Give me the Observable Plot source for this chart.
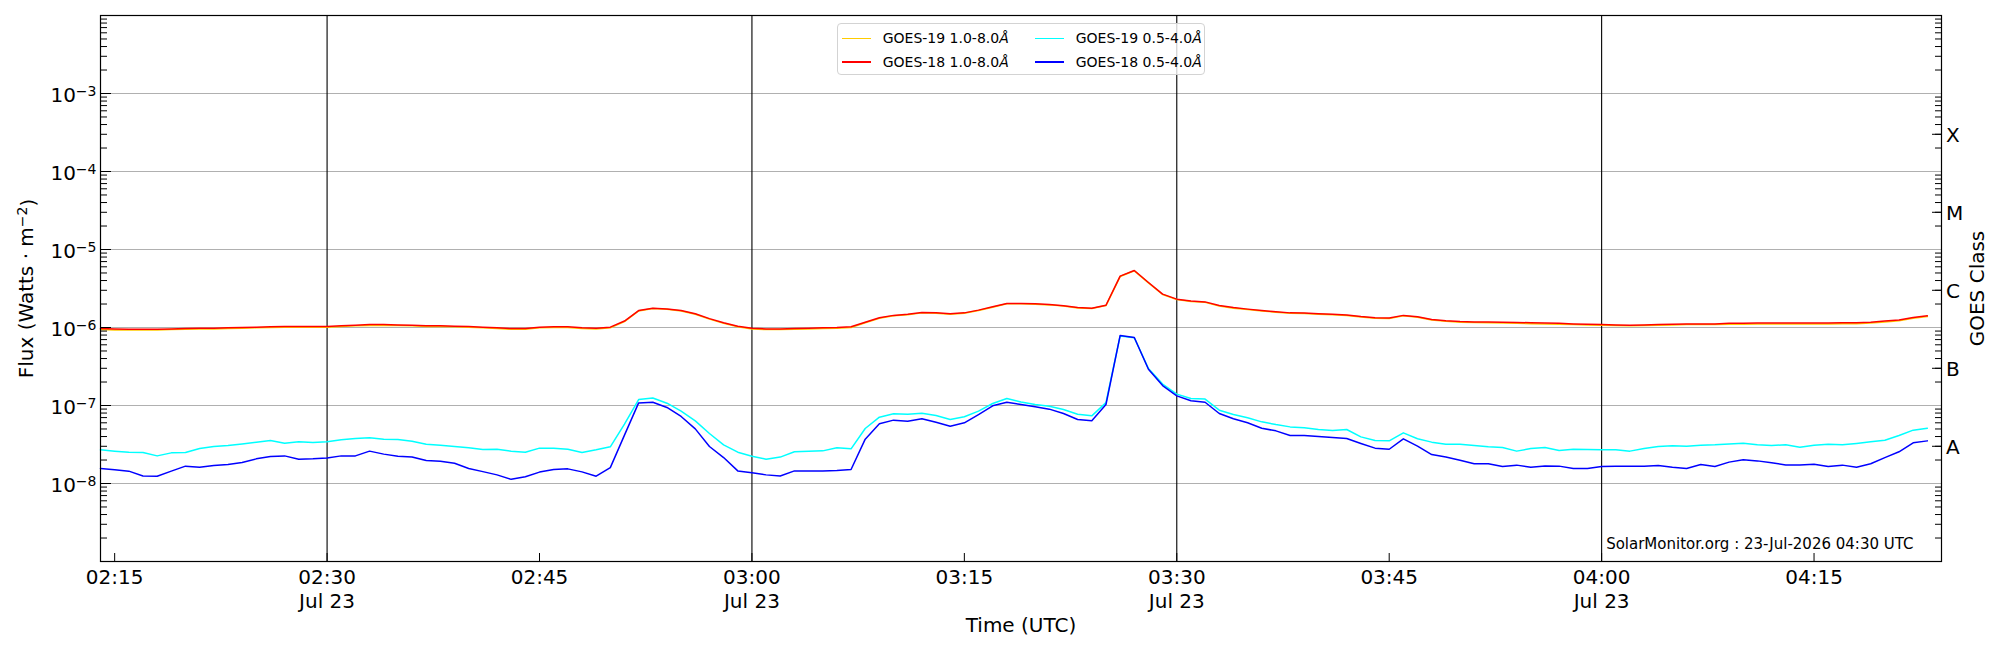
<!DOCTYPE html>
<html><head><meta charset="utf-8">
<script src="https://cdn.jsdelivr.net/npm/d3@7"></script>
<script src="https://cdn.jsdelivr.net/npm/@observablehq/plot@0.6"></script>
<style>
body{margin:0;background:#fff;font-family:"DejaVu Sans",sans-serif;}
#wrap{position:relative;width:2000px;height:650px;overflow:hidden;}
#legend{position:absolute;left:837px;top:23px;width:366px;height:50px;border:1px solid #d3d3d3;border-radius:4px;background:rgba(255,255,255,0.8);font-size:14px;color:#000;}
.sw{position:absolute;width:29px;height:1.5px;}
.lt{position:absolute;line-height:16px;white-space:nowrap;}
</style></head><body><div id="wrap"></div>
<script>
// ---- data (one-minute cadence starting 02:14 UTC, 23 Jul 2026) ----
const startTime = "2026-07-23T02:14:00Z";
const domainStart = "2026-07-23T02:14:00Z";
const domainEnd = "2026-07-23T04:24:00Z";

const goes18Long = [ // GOES-18 1.0-8.0 Å
9.7e-7,9.6e-7,9.5e-7,9.5e-7,9.5e-7,9.6e-7,9.7e-7,9.8e-7,9.8e-7,9.9e-7,
1.00e-6,1.01e-6,1.02e-6,1.03e-6,1.03e-6,1.03e-6,1.03e-6,1.05e-6,1.07e-6,1.09e-6,
1.09e-6,1.08e-6,1.07e-6,1.05e-6,1.05e-6,1.04e-6,1.03e-6,1.01e-6,0.99e-6,0.97e-6,
0.97e-6,1.01e-6,1.02e-6,1.02e-6,0.99e-6,0.98e-6,1.01e-6,1.21e-6,1.65e-6,1.77e-6,
1.73e-6,1.65e-6,1.50e-6,1.30e-6,1.15e-6,1.04e-6,0.98e-6,0.96e-6,0.96e-6,0.97e-6,
0.98e-6,0.99e-6,1.00e-6,1.02e-6,1.17e-6,1.33e-6,1.43e-6,1.48e-6,1.56e-6,1.54e-6,
1.50e-6,1.54e-6,1.67e-6,1.84e-6,2.03e-6,2.03e-6,2.01e-6,1.97e-6,1.90e-6,1.80e-6,
1.77e-6,1.93e-6,4.55e-6,5.38e-6,3.78e-6,2.68e-6,2.31e-6,2.18e-6,2.13e-6,1.91e-6,
1.80e-6,1.72e-6,1.65e-6,1.59e-6,1.54e-6,1.53e-6,1.50e-6,1.48e-6,1.45e-6,1.38e-6,
1.33e-6,1.32e-6,1.43e-6,1.37e-6,1.27e-6,1.22e-6,1.19e-6,1.18e-6,1.18e-6,1.17e-6,
1.16e-6,1.15e-6,1.14e-6,1.13e-6,1.11e-6,1.10e-6,1.09e-6,1.08e-6,1.07e-6,1.08e-6,
1.09e-6,1.10e-6,1.11e-6,1.11e-6,1.11e-6,1.13e-6,1.13e-6,1.14e-6,1.14e-6,1.14e-6,
1.14e-6,1.14e-6,1.14e-6,1.15e-6,1.15e-6,1.17e-6,1.21e-6,1.25e-6,1.34e-6,1.41e-6];

const goes19Long = [ // GOES-19 1.0-8.0 Å
9.4e-7,9.3e-7,9.3e-7,9.3e-7,9.3e-7,9.4e-7,9.5e-7,9.6e-7,9.6e-7,9.7e-7,
9.8e-7,9.9e-7,1.00e-6,1.01e-6,1.01e-6,1.01e-6,1.01e-6,1.03e-6,1.05e-6,1.06e-6,
1.06e-6,1.06e-6,1.05e-6,1.03e-6,1.03e-6,1.02e-6,1.01e-6,0.99e-6,0.97e-6,0.95e-6,
0.95e-6,0.99e-6,1.00e-6,1.00e-6,0.97e-6,0.96e-6,0.99e-6,1.19e-6,1.63e-6,1.75e-6,
1.71e-6,1.63e-6,1.48e-6,1.28e-6,1.13e-6,1.02e-6,0.96e-6,0.94e-6,0.94e-6,0.95e-6,
0.96e-6,0.97e-6,0.98e-6,1.00e-6,1.15e-6,1.31e-6,1.41e-6,1.46e-6,1.54e-6,1.52e-6,
1.48e-6,1.52e-6,1.65e-6,1.82e-6,2.01e-6,2.01e-6,1.99e-6,1.95e-6,1.88e-6,1.78e-6,
1.75e-6,1.91e-6,4.50e-6,5.33e-6,3.74e-6,2.65e-6,2.28e-6,2.15e-6,2.10e-6,1.88e-6,
1.77e-6,1.70e-6,1.63e-6,1.57e-6,1.52e-6,1.51e-6,1.48e-6,1.46e-6,1.43e-6,1.36e-6,
1.31e-6,1.30e-6,1.41e-6,1.35e-6,1.25e-6,1.20e-6,1.17e-6,1.16e-6,1.15e-6,1.14e-6,
1.13e-6,1.12e-6,1.11e-6,1.10e-6,1.09e-6,1.08e-6,1.07e-6,1.06e-6,1.05e-6,1.06e-6,
1.07e-6,1.08e-6,1.09e-6,1.09e-6,1.09e-6,1.10e-6,1.10e-6,1.11e-6,1.11e-6,1.11e-6,
1.11e-6,1.11e-6,1.11e-6,1.12e-6,1.12e-6,1.14e-6,1.18e-6,1.22e-6,1.31e-6,1.38e-6];

const goes18Short = [ // GOES-18 0.5-4.0 Å
1.56e-8,1.50e-8,1.44e-8,1.25e-8,1.24e-8,1.44e-8,1.67e-8,1.62e-8,1.70e-8,1.75e-8,
1.86e-8,2.07e-8,2.22e-8,2.26e-8,2.05e-8,2.07e-8,2.13e-8,2.26e-8,2.26e-8,2.60e-8,
2.38e-8,2.24e-8,2.18e-8,1.97e-8,1.93e-8,1.82e-8,1.56e-8,1.42e-8,1.29e-8,1.13e-8,
1.22e-8,1.40e-8,1.51e-8,1.54e-8,1.41e-8,1.24e-8,1.60e-8,4.17e-8,1.08e-7,1.10e-7,
9.43e-8,7.23e-8,5.02e-8,2.98e-8,2.15e-8,1.45e-8,1.37e-8,1.29e-8,1.25e-8,1.45e-8,
1.45e-8,1.45e-8,1.47e-8,1.51e-8,3.70e-8,5.82e-8,6.49e-8,6.30e-8,6.75e-8,6.11e-8,
5.43e-8,6.00e-8,7.66e-8,9.90e-8,1.10e-7,1.03e-7,9.62e-8,8.98e-8,7.89e-8,6.61e-8,
6.36e-8,1.03e-7,7.89e-7,7.44e-7,2.92e-7,1.80e-7,1.33e-7,1.15e-7,1.10e-7,7.89e-8,
6.75e-8,6.00e-8,5.12e-8,4.73e-8,4.12e-8,4.12e-8,4.00e-8,3.89e-8,3.78e-8,3.26e-8,
2.84e-8,2.75e-8,3.74e-8,3.01e-8,2.35e-8,2.18e-8,1.99e-8,1.79e-8,1.79e-8,1.65e-8,
1.72e-8,1.62e-8,1.68e-8,1.67e-8,1.56e-8,1.56e-8,1.65e-8,1.67e-8,1.67e-8,1.67e-8,
1.70e-8,1.62e-8,1.56e-8,1.75e-8,1.65e-8,1.88e-8,2.01e-8,1.95e-8,1.84e-8,1.73e-8,
1.73e-8,1.77e-8,1.65e-8,1.72e-8,1.62e-8,1.79e-8,2.15e-8,2.55e-8,3.32e-8,3.52e-8];

const goes19Short = [ // GOES-19 0.5-4.0 Å
2.70e-8,2.60e-8,2.52e-8,2.50e-8,2.26e-8,2.47e-8,2.50e-8,2.81e-8,2.98e-8,3.07e-8,
3.22e-8,3.39e-8,3.56e-8,3.29e-8,3.42e-8,3.35e-8,3.42e-8,3.63e-8,3.78e-8,3.85e-8,
3.70e-8,3.66e-8,3.49e-8,3.19e-8,3.10e-8,2.98e-8,2.87e-8,2.73e-8,2.75e-8,2.60e-8,
2.52e-8,2.84e-8,2.84e-8,2.75e-8,2.50e-8,2.70e-8,2.95e-8,5.76e-8,1.19e-7,1.25e-7,
1.07e-7,8.46e-8,6.36e-8,4.38e-8,3.13e-8,2.52e-8,2.24e-8,2.05e-8,2.18e-8,2.55e-8,
2.60e-8,2.62e-8,2.87e-8,2.78e-8,5.07e-8,7.09e-8,7.82e-8,7.74e-8,7.97e-8,7.44e-8,
6.61e-8,7.16e-8,8.46e-8,1.06e-7,1.23e-7,1.11e-7,1.03e-7,9.81e-8,8.89e-8,7.74e-8,
7.37e-8,1.09e-7,7.80e-7,7.40e-7,2.98e-7,1.88e-7,1.40e-7,1.23e-7,1.21e-7,8.71e-8,
7.66e-8,6.95e-8,6.17e-8,5.70e-8,5.32e-8,5.17e-8,4.92e-8,4.78e-8,4.92e-8,3.96e-8,
3.56e-8,3.52e-8,4.46e-8,3.74e-8,3.39e-8,3.19e-8,3.19e-8,3.07e-8,2.95e-8,2.89e-8,
2.60e-8,2.81e-8,2.89e-8,2.65e-8,2.75e-8,2.73e-8,2.70e-8,2.70e-8,2.60e-8,2.81e-8,
2.98e-8,3.04e-8,3.01e-8,3.10e-8,3.13e-8,3.22e-8,3.29e-8,3.13e-8,3.07e-8,3.13e-8,
2.92e-8,3.10e-8,3.19e-8,3.13e-8,3.26e-8,3.42e-8,3.59e-8,4.12e-8,4.83e-8,5.12e-8];

const seriesNames = ["GOES-19 1.0-8.0", "GOES-19 0.5-4.0", "GOES-18 1.0-8.0", "GOES-18 0.5-4.0"];
const seriesColors = ["#ffcc00", "#00ffff", "#ff0000", "#0000ff"];
const seriesValues = [goes19Long, goes19Short, goes18Long, goes18Short];

const fluxTicks = [1e-8, 1e-7, 1e-6, 1e-5, 1e-4, 1e-3];
const decadeTicks = [1e-9, 1e-8, 1e-7, 1e-6, 1e-5, 1e-4, 1e-3, 1e-2];
const classTicks = [3e-8, 3e-7, 3e-6, 3e-5, 3e-4];
const classLabels = ["A", "B", "C", "M", "X"];
const timeTicks = ["02:15","02:30","02:45","03:00","03:15","03:30","03:45","04:00","04:15"];
const dayLineTicks = ["02:30","03:00","03:30","04:00"];
const yLabel = "Flux (Watts · m^-2)";
const y2Label = "GOES Class";
const xLabel = "Time (UTC)";
const watermark = "SolarMonitor.org : 23-Jul-2026 04:30 UTC";

// ---- build tables ----
const t0 = new Date(startTime).getTime();
const toDate = hm => new Date(`2026-07-23T${hm}:00Z`);
const rows = [];
seriesValues.forEach((vals, s) => vals.forEach((v, i) => rows.push({t: new Date(t0 + i * 60000), v, s})));
const minorTicks = [];
for (let e = -9; e <= -3; e++) for (let k = 2; k <= 9; k++) minorTicks.push(k * Math.pow(10, e));
const fmtPow = d => "10^" + Math.round(Math.log10(d));
const hm = d3.utcFormat("%H:%M"), md = d3.utcFormat("%b %d");
const fmtTime = d => d.getUTCMinutes() % 30 === 0 ? hm(d) + "\n" + md(d) : hm(d);
const fmtClass = d => classLabels[classTicks.findIndex(c => Math.abs(c - d) / c < 1e-6)] ?? "";
const blank = () => "";

const lines = seriesValues.map((_, s) => Plot.line(rows.filter(r => r.s === s), {x: "t", y: "v", stroke: seriesColors[s], strokeWidth: 1.5}));

const chart = Plot.plot({
  width: 2000, height: 650,
  marginLeft: 100, marginRight: 59, marginTop: 15, marginBottom: 89,
  style: {fontFamily: "DejaVu Sans", fontSize: "20px", background: "white", color: "black", overflow: "visible"},
  x: {type: "utc", domain: [new Date(domainStart), new Date(domainEnd)]},
  y: {type: "log", domain: [1e-9, 1e-2]},
  marks: [
    Plot.ruleY(fluxTicks, {stroke: "#b0b0b0", strokeWidth: 1.1}),
    Plot.ruleX(dayLineTicks.map(toDate), {stroke: "black", strokeWidth: 1.1}),
    ...lines,
    Plot.frame({stroke: "black", strokeWidth: 1.2}),
    // left axis
    Plot.axisY(minorTicks, {anchor: "left", tickSize: -7, tickFormat: blank, label: null}),
    Plot.axisY(decadeTicks, {anchor: "left", tickSize: -11, tickFormat: blank, label: null}),
    Plot.axisY(fluxTicks, {anchor: "left", tickSize: 0, tickPadding: 4, dy: 2, tickFormat: fmtPow, label: null, fontSize: 20}),
    // right axis
    Plot.axisY(minorTicks, {anchor: "right", tickSize: -7, tickFormat: blank, label: null}),
    Plot.axisY(classTicks, {anchor: "right", tickSize: -10, tickFormat: blank, label: null}),
    Plot.text(classTicks, {y: d => d, text: fmtClass, frameAnchor: "right", textAnchor: "start", lineAnchor: "middle", dx: 4.5, dy: 1, fontSize: 20}),
    // bottom axis
    Plot.axisX(timeTicks.map(toDate), {anchor: "bottom", tickSize: -8, tickFormat: blank, label: null}),
    Plot.axisX(timeTicks.map(toDate), {anchor: "bottom", tickSize: 0, tickPadding: 6, tickFormat: fmtTime, lineHeight: 1.17, label: null, fontSize: 20}),
    // titles
    Plot.text([yLabel], {frameAnchor: "left", text: d => d, rotate: -90, textAnchor: "middle", lineAnchor: "middle", dx: -74, fontSize: 20}),
    Plot.text([y2Label], {frameAnchor: "right", text: d => d, rotate: -90, textAnchor: "middle", lineAnchor: "middle", dx: 36, fontSize: 20}),
    Plot.text([xLabel], {frameAnchor: "bottom", text: d => d, textAnchor: "middle", lineAnchor: "middle", dy: 64.2, fontSize: 20}),
    Plot.text([watermark], {frameAnchor: "bottom-right", text: d => d, textAnchor: "end", lineAnchor: "middle", dx: -28, dy: -17.2, fontSize: 15})
  ]
});

// superscripts as real tspans (mathtext-like)
d3.select(chart).selectAll("text").each(function() {
  const el = d3.select(this);
  if (el.selectAll("tspan").size() > 0) return;
  const m = /^(.*)\^(-?\d+)(.*)$/.exec(this.textContent);
  if (!m) return;
  const [, base, exp, rest] = m;
  el.text(null);
  el.append("tspan").text(base);
  el.append("tspan").attr("dy", "-0.42em").attr("font-size", "14px").text(exp.replace("-", "\u2212"));
  if (rest) el.append("tspan").attr("dy", "0.42em").text(rest);
});

const wrap = document.getElementById("wrap");
wrap.appendChild(chart);

// legend overlay
const legend = document.createElement("div");
legend.id = "legend";
const legendCells = [
  {s: 0, left: 4, top: 14.3}, {s: 2, left: 4, top: 38},
  {s: 1, left: 197, top: 14.3}, {s: 3, left: 197, top: 38}
];
legendCells.forEach(c => {
  const sw = document.createElement("div");
  sw.className = "sw";
  sw.style.left = c.left + "px";
  sw.style.top = (c.top - 0.75) + "px";
  sw.style.background = seriesColors[c.s];
  legend.appendChild(sw);
  const lt = document.createElement("div");
  lt.className = "lt";
  lt.style.left = (c.left + 40.7) + "px";
  lt.style.top = (c.top - 8) + "px";
  lt.innerHTML = seriesNames[c.s] + "<i>Å</i>";
  legend.appendChild(lt);
});
wrap.appendChild(legend);
</script>
</body></html>
